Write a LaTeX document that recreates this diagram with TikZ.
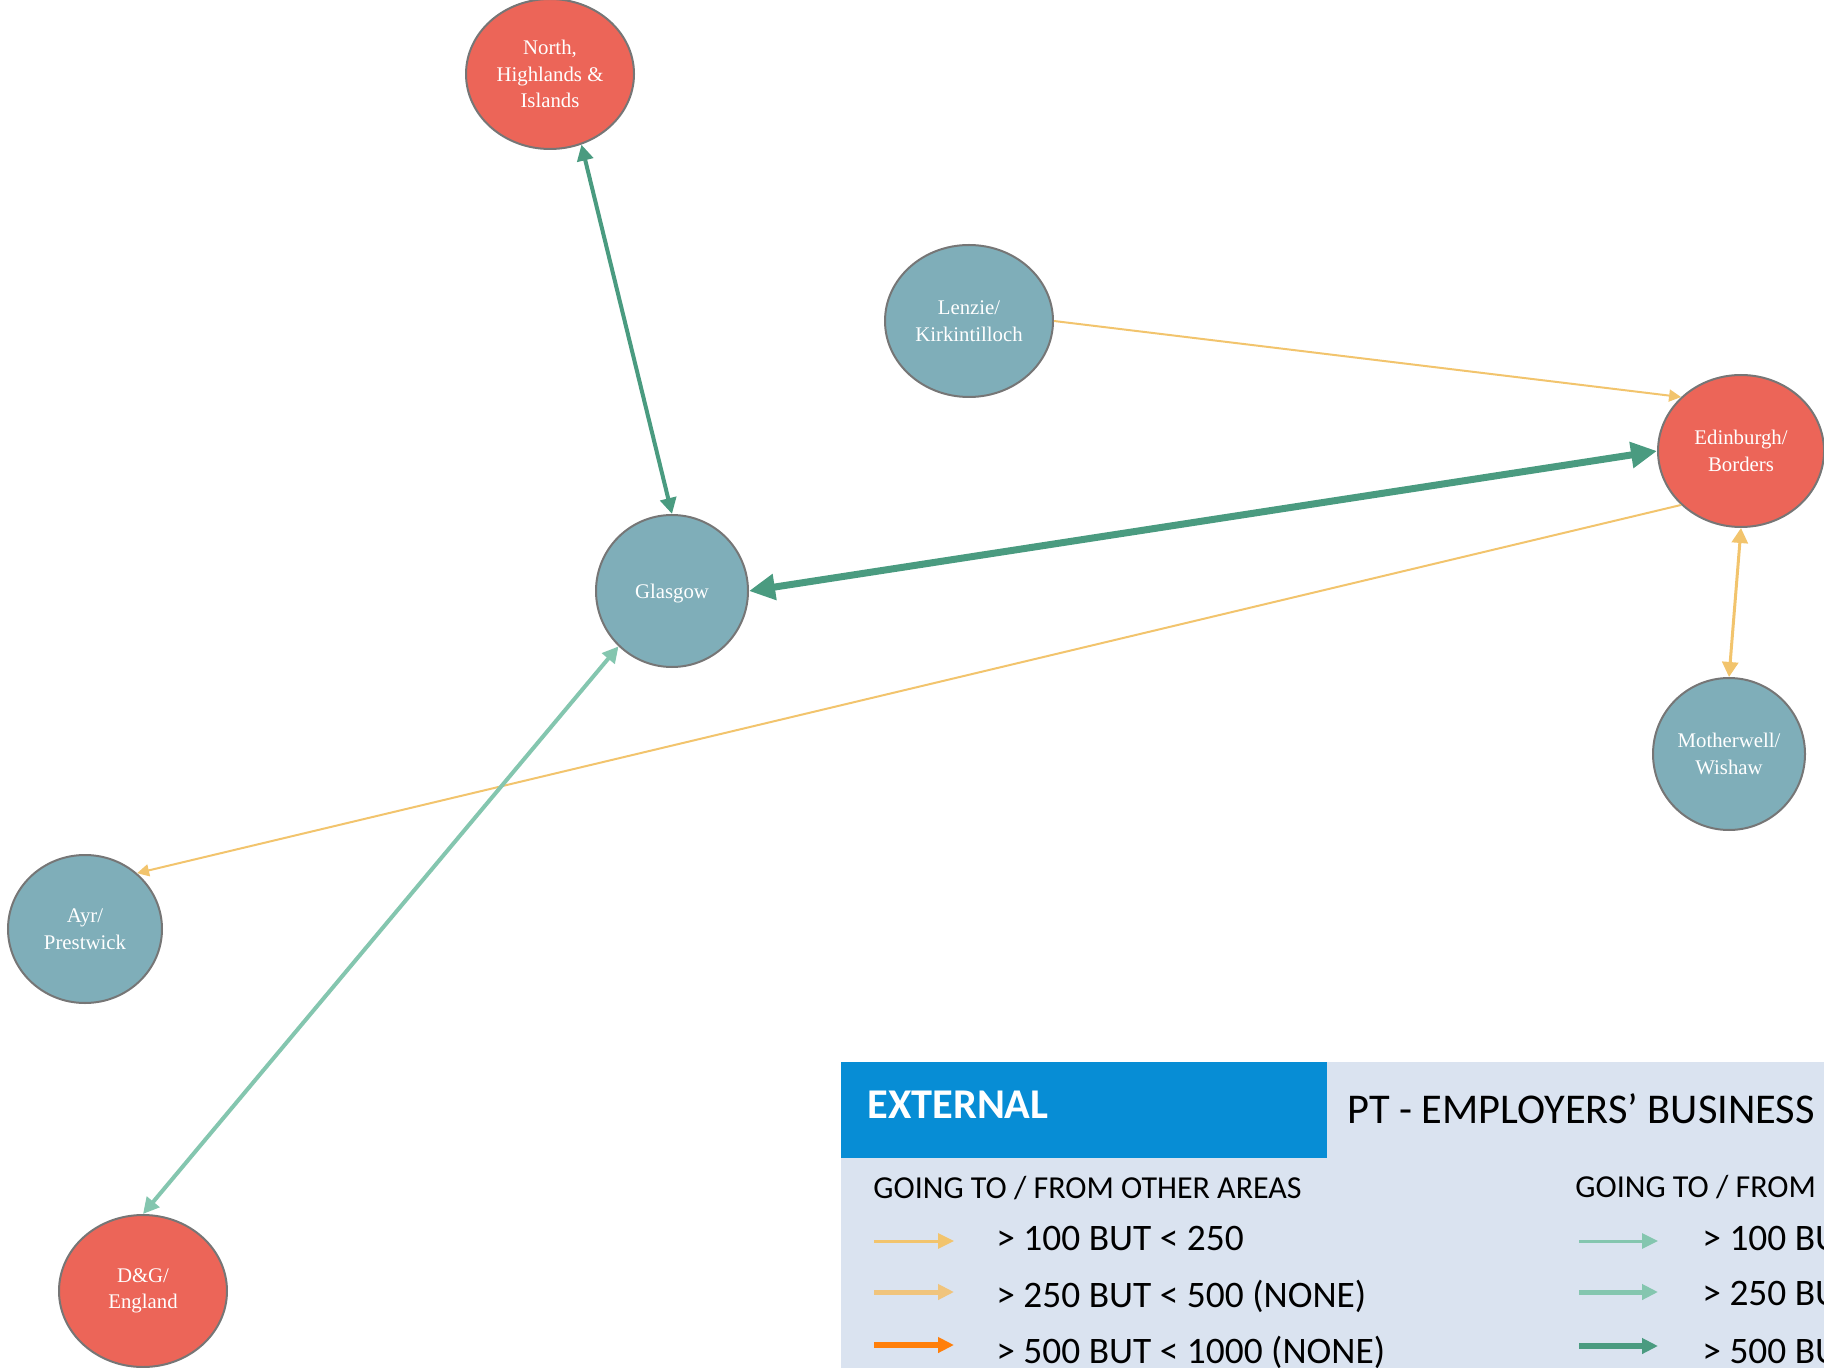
\documentclass[tikz,border=0pt]{standalone}
\usepackage{fontspec}
\setmainfont{Liberation Serif}
\newfontfamily\legendfont{Carlito}
\usetikzlibrary{shapes.geometric,arrows.meta}
\definecolor{redarea}{HTML}{EC6558}
\definecolor{bluearea}{HTML}{7FAEB9}
\definecolor{rim}{HTML}{767676}
\definecolor{darkgreen}{HTML}{4A9B80}
\definecolor{lightgreen}{HTML}{84C6AF}
\definecolor{sand}{HTML}{F2C46D}
\definecolor{sandlight}{HTML}{F0C47C}
\definecolor{flame}{HTML}{FF7F0A}
\definecolor{legendbg}{HTML}{DAE3F0}
\definecolor{headblue}{HTML}{078DD5}
\tikzset{
  area/.style={ellipse,draw=rim,line width=1pt,inner sep=0pt,text=white,
    align=center,font=\fontsize{10.4}{13.3}\selectfont},
  ext/.style={area,fill=redarea},
  int/.style={area,fill=bluearea},
  key/.style={anchor=base west,inner sep=0pt,font=\legendfont\fontsize{18.7}{20}\selectfont},
  yone/.style={sand,line width=1pt,-{Triangle[length=6pt,width=6pt]}},
  ytwo/.style={sand,line width=1.5pt,{Triangle[length=7.5pt,width=8pt]}-{Triangle[length=7.5pt,width=8pt]}},
  gtwo/.style={lightgreen,line width=2pt,{Triangle[length=8pt,width=8pt]}-{Triangle[length=8pt,width=8pt]}},
  dtwo/.style={darkgreen,line width=2pt,{Triangle[length=8pt,width=8pt]}-{Triangle[length=8pt,width=8pt]}},
  dthree/.style={darkgreen,line width=3.5pt,{Triangle[length=13pt,width=12.5pt]}-{Triangle[length=13pt,width=12.5pt]}},
  keyarrow/.style={line width=#1,-{Triangle[length=8pt,width=7.5pt]}}
}
\begin{document}
\begin{tikzpicture}[x=0.5pt,y=-0.5pt]
      \useasboundingbox (0,0) rectangle (1824,1368);
      \node[ext,minimum width=84pt,minimum height=75pt] (0) at (550, 74) {North,\\Highlands \&\\Islands};
      \node[int,minimum width=84pt,minimum height=76pt] (1) at (969, 321) {Lenzie/\\Kirkintilloch};
      \node[ext,minimum width=83pt,minimum height=76pt] (2) at (1741, 451) {Edinburgh/\\Borders};
      \node[int,minimum width=76pt,minimum height=76pt,text depth=0pt] (3) at (672, 591) {Glasgow};
      \node[int,minimum width=76pt,minimum height=76pt] (4) at (1729, 754) {Motherwell/\\Wishaw};
      \node[int,minimum width=77pt,minimum height=74pt] (5) at (85, 929) {Ayr/\\Prestwick};
      \node[ext,minimum width=84pt,minimum height=76pt] (6) at (143, 1291) {D\&G/\\England};
      \draw[dtwo] (0.294) to (3.north);
      \draw[yone] (1.east) to (2.138);
      \draw[dthree] (2.west) to (3.east);
      \draw[yone] (2.222) to (5.47);
      \draw[ytwo] (2.south) to (4.north);
      \draw[gtwo] (3.226) to (6.north);
      \fill[legendbg] (841, 1062) rectangle (1824, 1368);
      \fill[headblue] (841, 1062) rectangle (1327, 1158);
      \node[key,text=white,font=\legendfont\bfseries\fontsize{21.2}{23}\selectfont] (7) at (867, 1118) {EXTERNAL};
      \node[key,font=\legendfont\fontsize{21.2}{23}\selectfont] (8) at (1347, 1123) {PT - EMPLOYERS’ BUSINESS};
      \node[key,font=\legendfont\fontsize{16}{18}\selectfont] (9) at (873, 1198) {GOING TO / FROM OTHER AREAS};
      \node[key,font=\legendfont\fontsize{16}{18}\selectfont] (10) at (1575, 1197) {GOING TO / FROM};
      \node[key] (11) at (996, 1250) {> 100 BUT < 250};
      \node[key] (12) at (996, 1307) {> 250 BUT < 500 (NONE)};
      \node[key] (13) at (996, 1363) {> 500 BUT < 1000 (NONE)};
      \node[key] (14) at (1702, 1250) {> 100 BUT};
      \node[key] (15) at (1702, 1305) {> 250 BUT};
      \node[key] (16) at (1702, 1363) {> 500 BUT};
      \coordinate (a1) at (874, 1241);
      \coordinate (b1) at (954, 1241);
      \coordinate (a2) at (874, 1292);
      \coordinate (b2) at (954, 1292);
      \coordinate (a3) at (874, 1345);
      \coordinate (b3) at (954, 1345);
      \coordinate (c1) at (1579, 1241);
      \coordinate (d1) at (1658, 1241);
      \coordinate (c2) at (1579, 1292);
      \coordinate (d2) at (1658, 1292);
      \coordinate (c3) at (1579, 1346);
      \coordinate (d3) at (1658, 1346);
      \draw[keyarrow=1.5pt,sand] (a1) to (b1);
      \draw[keyarrow=2.5pt,sandlight] (a2) to (b2);
      \draw[keyarrow=3pt,flame] (a3) to (b3);
      \draw[keyarrow=1.5pt,lightgreen] (c1) to (d1);
      \draw[keyarrow=2.5pt,lightgreen] (c2) to (d2);
      \draw[keyarrow=3pt,darkgreen] (c3) to (d3);
    \end{tikzpicture}
\end{document}
